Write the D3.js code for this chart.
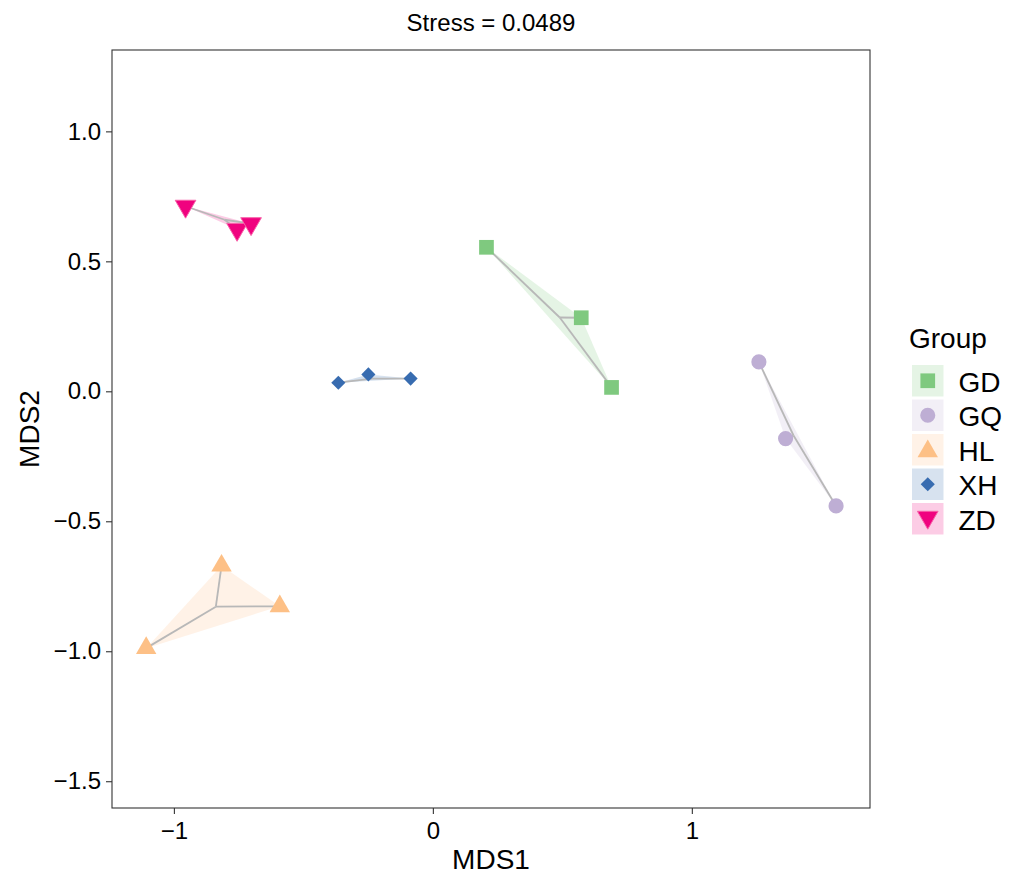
<!DOCTYPE html>
<html>
<head>
<meta charset="utf-8">
<script src="https://cdnjs.cloudflare.com/ajax/libs/d3/7.8.5/d3.min.js"></script>
<style>
  body { margin: 0; background: #fff; }
  text { font-family: "Liberation Sans", Arial, sans-serif; }
</style>
</head>
<body>
<div class="graph"></div>
<script>
// data
let groups = ["GD", "GQ", "HL", "XH", "ZD"]
let colors = ["#7FC97F", "#BEAED4", "#FDC086", "#386CB0", "#F0027F"]
let sampleGroup = ["GD","GD","GD","GQ","GQ","GQ","HL","HL","HL","XH","XH","XH","ZD","ZD","ZD"]
let mds1 = [0.207, 0.573, 0.690, 1.259, 1.362, 1.557, -0.816, -0.591, -1.107, -0.365, -0.249, -0.086, -0.955, -0.756, -0.702]
let mds2 = [0.554, 0.283, 0.015, 0.113, -0.182, -0.441, -0.671, -0.827, -0.988, 0.033, 0.065, 0.049, 0.712, 0.623, 0.645]
let xTicks = [-1, 0, 1]
let yTicks = [1.0, 0.5, 0.0, -0.5, -1.0, -1.5]
let stress = "0.0489"

let svgWidth = 1017
let svgHeight = 875

let margin = { left: 112, right: 147, top: 50, bottom: 67 }
let width = svgWidth - margin.left - margin.right
let height = svgHeight - margin.top - margin.bottom

let svg = d3.select('.graph')
    .append('svg')
    .attr('width', svgWidth)
    .attr('height', svgHeight)

let g = svg.append('g')
    .attr('transform', `translate(${margin.left},${margin.top})`)

let xScale = d3.scaleLinear().domain([-1.239, 1.688]).range([0, width])
let yScale = d3.scaleLinear().domain([-1.603, 1.313]).range([height, 0])

let colorScale = d3.scaleOrdinal().domain(groups).range(colors)

// symbol per group
function symbolPath(grp) {
    if (grp == "GD") return d3.symbol().type(d3.symbolSquare).size(216)()
    if (grp == "GQ") return d3.symbol().type(d3.symbolCircle).size(180)()
    if (grp == "HL") return d3.symbol().type(d3.symbolTriangle).size(180)()
    if (grp == "XH") return d3.symbol().type(d3.symbolSquare).size(100)()
    return d3.symbol().type(d3.symbolTriangle).size(185)()
}
function symbolRotate(grp) {
    if (grp == "XH") return 45
    if (grp == "ZD") return 180
    return 0
}

let samples = sampleGroup.map((grp, i) => ({ grp: grp, x: mds1[i], y: mds2[i] }))

// panel background
g.append('rect')
    .attr('width', width)
    .attr('height', height)
    .attr('fill', '#fff')

// hulls
groups.forEach(grp => {
    let pts = samples.filter(d => d.grp == grp).map(d => [xScale(d.x), yScale(d.y)])
    let hull = d3.polygonHull(pts)
    g.append('path')
        .attr('d', 'M' + hull.join('L') + 'Z')
        .attr('fill', colorScale(grp))
        .attr('fill-opacity', 0.2)
        .attr('stroke', 'none')
})

// spider lines to the centroid
groups.forEach(grp => {
    let sub = samples.filter(d => d.grp == grp)
    let cx = d3.mean(sub, d => d.x)
    let cy = d3.mean(sub, d => d.y)
    sub.forEach(d => {
        g.append('line')
            .attr('x1', xScale(cx)).attr('y1', yScale(cy))
            .attr('x2', xScale(d.x)).attr('y2', yScale(d.y))
            .attr('stroke', '#b8b8b8')
            .attr('stroke-width', 1.8)
    })
})

// points
g.selectAll('.pt')
    .data(samples)
    .enter()
    .append('path')
    .attr('class', 'pt')
    .attr('d', d => symbolPath(d.grp))
    .attr('transform', d => `translate(${xScale(d.x)},${yScale(d.y)}) rotate(${symbolRotate(d.grp)})`)
    .attr('fill', d => colorScale(d.grp))
    .attr('stroke', d => d.grp == "ZD" ? '#f761a8' : 'none')
    .attr('stroke-width', 1)

// panel border
g.append('rect')
    .attr('width', width)
    .attr('height', height)
    .attr('fill', 'none')
    .attr('stroke', '#333')
    .attr('stroke-width', 1.1)

// axes
let xAxis = d3.axisBottom(xScale)
    .tickValues(xTicks)
    .tickSize(6)
    .tickFormat(d => d < 0 ? '\u2212' + Math.abs(d) : d)

let yAxis = d3.axisLeft(yScale)
    .tickValues(yTicks)
    .tickSize(6)
    .tickFormat(d => (d < 0 ? '\u2212' : '') + d3.format('.1f')(Math.abs(d)))

let xg = g.append('g')
    .attr('transform', `translate(0,${height})`)
    .call(xAxis)
let yg = g.append('g')
    .call(yAxis)

;[xg, yg].forEach(a => {
    a.select('.domain').remove()
    a.selectAll('.tick line').attr('stroke', '#333').attr('stroke-width', 1.1)
    a.selectAll('.tick text')
        .attr('fill', '#000')
        .style('font-size', '24px')
})
xg.selectAll('.tick text').attr('dy', '0.71em').attr('y', 14)
yg.selectAll('.tick text').attr('x', -11)

// titles
svg.append('text')
    .attr('x', margin.left + width / 2)
    .attr('y', 31)
    .attr('text-anchor', 'middle')
    .style('font-size', '24px')
    .text('Stress = ' + stress)

svg.append('text')
    .attr('x', margin.left + width / 2)
    .attr('y', 869)
    .attr('text-anchor', 'middle')
    .style('font-size', '28px')
    .text('MDS1')

svg.append('text')
    .attr('transform', `translate(38.5,${margin.top + height / 2}) rotate(-90)`)
    .attr('text-anchor', 'middle')
    .style('font-size', '28px')
    .text('MDS2')

// legend
let legend = svg.append('g')
    .attr('transform', 'translate(912,348)')

legend.append('text')
    .attr('x', -3)
    .attr('y', 0)
    .style('font-size', '28px')
    .text('Group')

groups.forEach((grp, i) => {
    let ky = 17 + i * 34.5
    legend.append('rect')
        .attr('x', 0)
        .attr('y', ky)
        .attr('width', 31.5)
        .attr('height', 31.5)
        .attr('fill', colorScale(grp))
        .attr('fill-opacity', 0.2)
    legend.append('path')
        .attr('d', symbolPath(grp))
        .attr('transform', `translate(15.75,${ky + 15.75 + (grp == "HL" ? 1.5 : grp == "ZD" ? -1.5 : 0)}) rotate(${symbolRotate(grp)})`)
        .attr('fill', colorScale(grp))
        .attr('stroke', grp == "ZD" ? '#f761a8' : 'none')
    legend.append('text')
        .attr('x', 46.5)
        .attr('y', ky + 16.5)
        .attr('dy', '0.36em')
        .style('font-size', '28px')
        .text(grp)
})
</script>
</body>
</html>
